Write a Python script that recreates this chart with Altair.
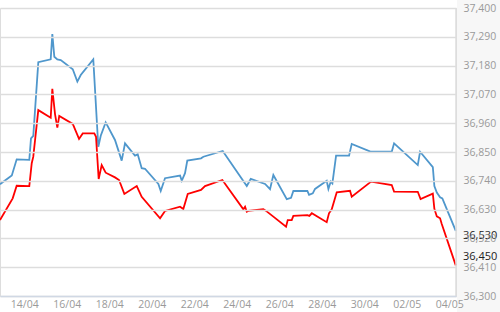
import altair as alt
import pandas as pd

blue_times = [
    "2014-04-12T20:40", "2014-04-13T10:00", "2014-04-13T15:30", "2014-04-14T05:45", "2014-04-14T07:40",
    "2014-04-14T10:15", "2014-04-14T15:55", "2014-04-15T05:55", "2014-04-15T07:45", "2014-04-15T10:00",
    "2014-04-15T13:25", "2014-04-15T17:15", "2014-04-16T06:50", "2014-04-16T12:00", "2014-04-16T15:50",
    "2014-04-17T06:00", "2014-04-17T11:40", "2014-04-17T14:25", "2014-04-17T20:00", "2014-04-18T06:30",
    "2014-04-18T14:05", "2014-04-18T17:50", "2014-04-19T05:05", "2014-04-19T08:10", "2014-04-19T12:40",
    "2014-04-19T16:25", "2014-04-20T07:30", "2014-04-20T10:10", "2014-04-20T15:00", "2014-04-21T08:00",
    "2014-04-21T09:55", "2014-04-21T13:35", "2014-04-21T16:10", "2014-04-22T07:40", "2014-04-22T10:20",
    "2014-04-23T08:10", "2014-04-24T11:20", "2014-04-24T15:50", "2014-04-25T08:00", "2014-04-25T13:35",
    "2014-04-25T17:20", "2014-04-26T08:30", "2014-04-26T13:20", "2014-04-26T15:55", "2014-04-27T07:45",
    "2014-04-27T09:40", "2014-04-27T13:50", "2014-04-27T16:25", "2014-04-28T05:35", "2014-04-28T07:30",
    "2014-04-28T10:10", "2014-04-28T12:00", "2014-04-28T16:10", "2014-04-29T06:50", "2014-04-29T09:50",
    "2014-04-30T07:40", "2014-05-01T07:00", "2014-05-01T09:40", "2014-05-02T12:25", "2014-05-02T15:00",
    "2014-05-03T05:25", "2014-05-03T07:10", "2014-05-03T09:55", "2014-05-03T13:35", "2014-05-03T16:10",
    "2014-05-04T07:20",
]
blue_values = [
    36727, 36760, 36822, 36820, 36902,
    36912, 37193, 37204, 37300, 37214,
    37204, 37201, 37166, 37119, 37144,
    37204, 36870, 36912, 36963, 36896,
    36817, 36883, 36836, 36841, 36788,
    36786, 36728, 36701, 36750, 36760,
    36740, 36769, 36817, 36826, 36832,
    36854, 36720, 36747, 36728, 36708,
    36762, 36670, 36675, 36701, 36701,
    36686, 36692, 36709, 36740, 36709,
    36737, 36730, 36836, 36836, 36881,
    36851, 36851, 36883, 36800, 36851,
    36792, 36720, 36695, 36677, 36673,
    36549,
]

red_times = [
    "2014-04-12T20:40", "2014-04-13T11:00", "2014-04-13T15:30", "2014-04-14T05:45", "2014-04-14T08:30",
    "2014-04-14T10:15", "2014-04-14T15:55", "2014-04-15T05:55", "2014-04-15T07:45", "2014-04-15T10:50",
    "2014-04-15T13:25", "2014-04-15T15:35", "2014-04-16T06:50", "2014-04-16T13:55", "2014-04-16T18:05",
    "2014-04-17T07:10", "2014-04-17T09:05", "2014-04-17T12:05", "2014-04-17T15:30", "2014-04-17T20:00",
    "2014-04-18T06:30", "2014-04-18T11:05", "2014-04-18T17:05", "2014-04-19T07:05", "2014-04-19T12:40",
    "2014-04-20T09:25", "2014-04-20T15:00", "2014-04-21T08:00", "2014-04-21T11:40", "2014-04-21T16:40",
    "2014-04-22T07:40", "2014-04-22T12:10", "2014-04-23T07:45", "2014-04-24T07:30", "2014-04-24T09:25",
    "2014-04-24T11:20", "2014-04-24T13:05", "2014-04-25T06:00", "2014-04-25T08:45", "2014-04-25T17:20",
    "2014-04-26T07:40", "2014-04-26T09:35", "2014-04-26T14:05", "2014-04-26T15:55", "2014-04-27T07:45",
    "2014-04-27T10:00", "2014-04-27T12:45", "2014-04-28T05:35", "2014-04-28T08:10", "2014-04-28T11:15",
    "2014-04-28T16:55", "2014-04-29T07:55", "2014-04-29T09:50", "2014-04-30T07:40", "2014-05-01T07:00",
    "2014-05-01T09:40", "2014-05-02T12:25", "2014-05-02T15:35", "2014-05-03T05:25", "2014-05-03T07:10",
    "2014-05-03T09:55", "2014-05-03T13:35", "2014-05-03T15:30", "2014-05-04T07:20",
]
red_values = [
    36590, 36673, 36721, 36720, 36807,
    36832, 37010, 36981, 37091, 36994,
    36943, 36988, 36957, 36900, 36921,
    36921, 36908, 36747, 36800, 36771,
    36753, 36743, 36690, 36720, 36679,
    36597, 36625, 36641, 36632, 36690,
    36705, 36720, 36743, 36631, 36641,
    36622, 36625, 36632, 36626, 36603,
    36565, 36590, 36590, 36606, 36609,
    36606, 36616, 36582, 36616, 36631,
    36696, 36702, 36679, 36737, 36724,
    36699, 36698, 36670, 36691, 36633,
    36604, 36597, 36575, 36417,
]

y_ticks = [36300, 36410, 36520, 36630, 36740, 36850, 36960, 37070, 37180, 37290, 37400]
x_tick_days = [(4, 14), (4, 16), (4, 18), (4, 20), (4, 22), (4, 24), (4, 26), (4, 28), (4, 30), (5, 2), (5, 4)]
last_labels = [36530, 36450]

df = pd.concat([
    pd.DataFrame({"t": blue_times, "v": blue_values, "s": "blue"}),
    pd.DataFrame({"t": red_times, "v": red_values, "s": "red"}),
])
lab_df = pd.DataFrame({"v": last_labels, "txt": [f"{v:,}" for v in last_labels]})

FONT = "Open Sans"
x_scale = alt.Scale(domain=[alt.DateTime(year=2014, month=4, date=12, hours=20, minutes=40),
                            alt.DateTime(year=2014, month=5, date=4, hours=7, minutes=35)])
y_scale = alt.Scale(domain=[36300, 37400], nice=False, zero=False)

x_enc = alt.X("t:T", scale=x_scale, axis=alt.Axis(
    values=[alt.DateTime(year=2014, month=m, date=d) for m, d in x_tick_days],
    tickCount=len(x_tick_days),
    format="%d/%m", title=None, grid=False, ticks=False, labelPadding=3,
    labelColor="#9a9a9a", labelFontSize=10.5, labelFont=FONT, zindex=2,
    domainColor="#d0d8e4", domainWidth=1.5))
y_enc = alt.Y("v:Q", scale=y_scale, axis=alt.Axis(
    orient="right", values=y_ticks, tickCount=len(y_ticks), format=",d", title=None,
    ticks=False, domain=False, zindex=2,
    gridColor="#dddddd", gridWidth=1.5, labelPadding=7, labelAlign="left",
    labelOverlap=False, labelColor="#9a9a9a", labelFontSize=10.5, labelFont=FONT,
    labelBound=False))

panel = alt.Chart(pd.DataFrame({"a": [0]})).mark_rect(color="#f7f7f7").encode(
    x=alt.value(457), x2=alt.value(500), y=alt.value(-8), y2=alt.value(304))
border = alt.Chart(pd.DataFrame({"a": [0]})).mark_rule(color="#dddddd", strokeWidth=1.5).encode(
    x=alt.value(456), y=alt.value(0), y2=alt.value(288))

lines = alt.Chart(df).mark_line(strokeWidth=1.8, interpolate="linear").encode(
    x=x_enc, y=y_enc,
    color=alt.Color("s:N", scale=alt.Scale(domain=["blue", "red"], range=["#4f97cc", "#ff0000"]), legend=None),
    detail="s:N")

labels = alt.Chart(lab_df).mark_text(align="left", baseline="middle", fontSize=11,
                                     font=FONT, color="#222222").encode(
    x=alt.value(463), y=alt.Y("v:Q"), text="txt:N")

chart = alt.layer(lines, panel, border, labels).properties(
    width=456, height=288,
    padding={"left": 0, "top": 8, "right": 44, "bottom": 16},
    autosize="none",
).configure_view(stroke=None, fill="white").configure(background="white")

chart.save("out.html", embed_options={"renderer": "svg", "actions": False})
